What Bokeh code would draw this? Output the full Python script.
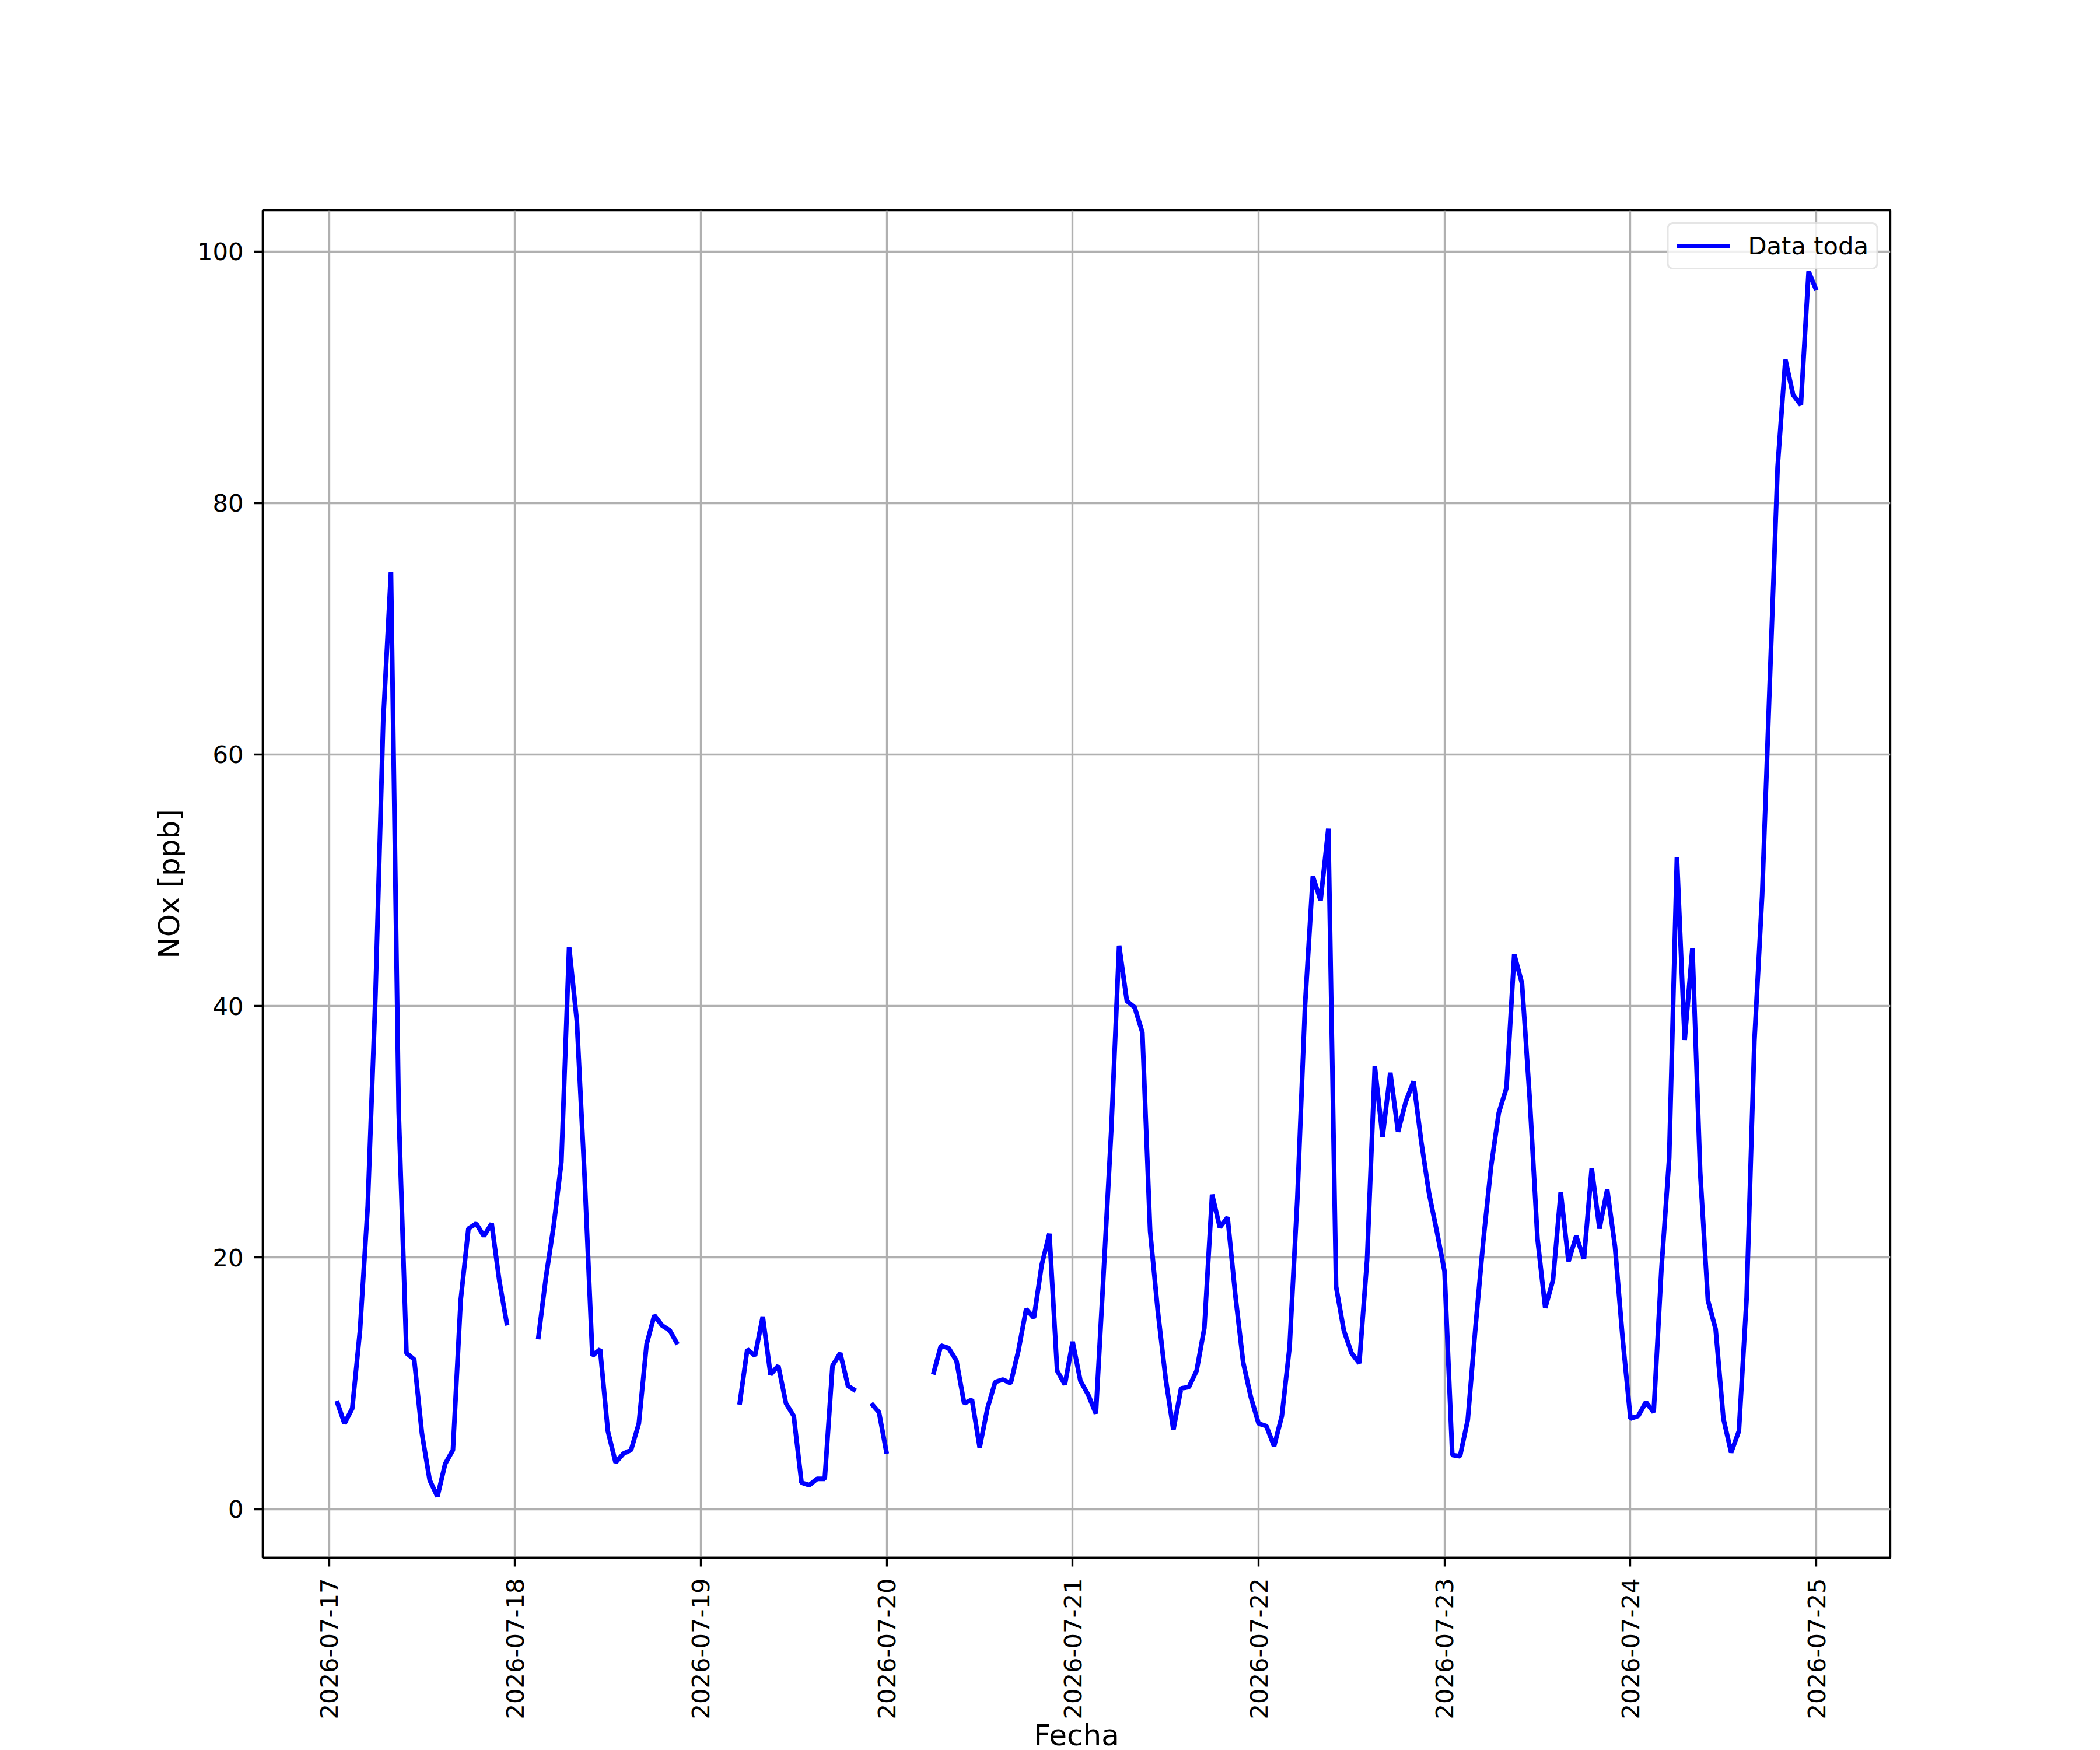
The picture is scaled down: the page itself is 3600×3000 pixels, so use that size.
import math
import pandas as pd
from bokeh.plotting import figure
from bokeh.models import (Range1d, FixedTicker, DatetimeTickFormatter, Legend,
                          LegendItem)
from bokeh.embed import file_html
from bokeh.resources import INLINE

nan = float("nan")

# Hourly NOx values [ppb], hours 00..23 for each day (NaN = missing)
day_17 = [nan, 8.6, 6.8, 8.0, 14.2, 24.1, 40.9, 62.7, 74.5, 31.6, 12.4, 11.9,
          6.0, 2.3, 1.0, 3.6, 4.7, 16.6, 22.3, 22.7, 21.7, 22.7, 18.1, 14.6]
day_18 = [nan, nan, nan, 13.5, 18.4, 22.5, 27.6, 44.7, 38.8, 26.4, 12.2, 12.7,
          6.2, 3.7, 4.4, 4.7, 6.8, 13.1, 15.4, 14.6, 14.2, 13.1, nan, nan]
day_19 = [nan, nan, nan, nan, nan, 8.3, 12.7, 12.2, 15.3, 10.7, 11.4, 8.4,
          7.4, 2.1, 1.9, 2.4, 2.4, 11.4, 12.4, 9.8, 9.4, nan, 8.4, 7.7]
day_20 = [4.4, nan, nan, nan, nan, nan, 10.7, 13.0, 12.8, 11.8, 8.4, 8.7,
          4.9, 8.0, 10.1, 10.3, 10.0, 12.6, 15.9, 15.2, 19.4, 21.9, 11.0, 9.9]
day_21 = [13.3, 10.2, 9.1, 7.6, 18.8, 30.3, 44.8, 40.4, 39.9, 37.9, 22.1, 15.7,
          10.4, 6.3, 9.6, 9.7, 11.0, 14.4, 25.0, 22.4, 23.2, 17.0, 11.7, 8.9]
day_22 = [6.8, 6.6, 5.0, 7.4, 12.9, 24.7, 40.1, 50.3, 48.4, 54.1, 17.7, 14.2,
          12.4, 11.6, 19.8, 35.2, 29.6, 34.7, 30.0, 32.4, 34.0, 29.2, 25.1, 22.1]
day_23 = [18.9, 4.3, 4.2, 7.1, 14.5, 21.3, 27.2, 31.5, 33.5, 44.1, 41.8, 32.6,
          21.5, 16.0, 18.2, 25.2, 19.7, 21.7, 19.9, 27.1, 22.3, 25.4, 20.9, 13.5]
day_24 = [7.2, 7.4, 8.5, 7.7, 19.1, 27.9, 51.8, 37.3, 44.6, 26.8, 16.6, 14.3,
          7.2, 4.5, 6.2, 16.8, 37.2, 48.8, 66.0, 82.9, 91.4, 88.6, 87.8, 98.4]
day_25 = [96.9]

values = day_17 + day_18 + day_19 + day_20 + day_21 + day_22 + day_23 + day_24 + day_25
times = pd.date_range("2026-07-17 00:00", periods=len(values), freq="h")

day_ticks = pd.date_range("2026-07-17", "2026-07-25", freq="D")
y_ticks = [0, 20, 40, 60, 80, 100]

# axis limits (matplotlib-like 5% margins)
t_first = pd.Timestamp("2026-07-17 01:00")
t_last = pd.Timestamp("2026-07-25 00:00")
pad_t = (t_last - t_first) * 0.05
vmin, vmax = 1.0, 98.4
pad_v = (vmax - vmin) * 0.05

FONT = "DejaVu Sans"
LW = 3.33

p = figure(frame_width=2790, frame_height=2310, x_axis_type="datetime",
           output_backend="svg", toolbar_location=None,
           x_range=Range1d(t_first - pad_t, t_last + pad_t),
           y_range=Range1d(vmin - pad_v, vmax + pad_v),
           min_border_left=450, min_border_right=352,
           min_border_top=360, min_border_bottom=330)

p.background_fill_color = "white"
p.border_fill_color = "white"
p.outline_line_color = "black"
p.outline_line_width = LW

r = p.line(times, values, line_color="#0000ff", line_width=8.0)

p.xaxis.ticker = FixedTicker(ticks=[t.value / 1e6 for t in day_ticks])
p.xaxis.formatter = DatetimeTickFormatter(
    days="%Y-%m-%d", months="%Y-%m-%d", hours="%Y-%m-%d", years="%Y-%m-%d",
    strip_leading_zeros=False)
p.xaxis.major_label_orientation = math.pi / 2
p.yaxis.ticker = FixedTicker(ticks=y_ticks)

for ax in (p.xaxis[0], p.yaxis[0]):
    ax.axis_line_color = "black"
    ax.axis_line_width = LW
    ax.major_tick_line_color = "black"
    ax.major_tick_line_width = LW
    ax.major_tick_out = 15
    ax.major_tick_in = 0
    ax.minor_tick_line_color = None
    ax.major_label_text_font = FONT
    ax.major_label_text_font_size = "41.67px"
    ax.major_label_text_color = "black"
    ax.axis_label_text_font = FONT
    ax.axis_label_text_font_size = "50px"
    ax.axis_label_text_font_style = "normal"
    ax.axis_label_text_color = "black"

p.xaxis.axis_label = "Fecha"
p.yaxis.axis_label = "NOx [ppb]"
p.xaxis.major_label_standoff = 20
p.yaxis.major_label_standoff = 18
p.xaxis.axis_label_standoff = -5
p.yaxis.axis_label_standoff = 16

for g in (p.xgrid[0], p.ygrid[0]):
    g.grid_line_color = "#b0b0b0"
    g.grid_line_width = LW

legend = Legend(items=[LegendItem(label="Data toda", renderers=[r])],
                location="top_right")
legend.label_text_font = FONT
legend.label_text_font_size = "41.67px"
legend.label_text_color = "black"
legend.glyph_width = 92
legend.glyph_height = 49
legend.label_height = 49
legend.label_standoff = 31
legend.padding = 13
legend.margin = 21
legend.border_line_color = "#cccccc"
legend.border_line_width = LW
legend.background_fill_color = "white"
legend.background_fill_alpha = 0.8
if "border_radius" in Legend.properties():
    legend.border_radius = 10
p.add_layout(legend)

open("out.html", "w").write(file_html(p, INLINE))
